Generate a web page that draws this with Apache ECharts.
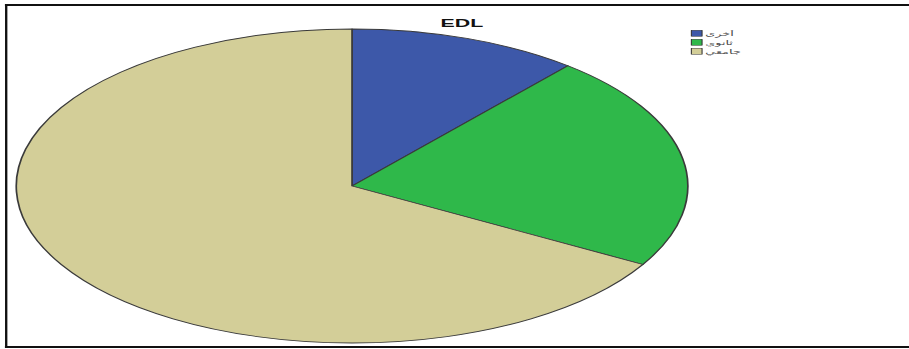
<!DOCTYPE html>
<html>
<head>
<meta charset="utf-8">
<script src="https://cdn.jsdelivr.net/npm/echarts@6/dist/echarts.min.js"></script>
<style>
  html, body { margin: 0; padding: 0; background: #fff; overflow: hidden; }
  #wrap { width: 909px; height: 349px; overflow: hidden; position: relative; }
  /* The chart is laid out narrow and stretched sideways so the pie becomes a wide ellipse */
  #chart { width: 425px; height: 349px; transform: scaleX(2.1388); transform-origin: 0 0; }
</style>
</head>
<body>
<div id="wrap"><div id="chart"></div></div>
<script>
const titleText = 'EDL';
const categories = ['أخرى', 'ثانوي', 'جامعي'];
const counts = [10, 20, 60];
const colors = ['#3d58a9', '#2fb84a', '#d3ce98'];

const chart = echarts.init(document.getElementById('chart'), null, { renderer: 'svg' });

chart.setOption({
  animation: false,
  title: {
    text: titleText,
    left: 201,
    top: 14,
    textStyle: { fontFamily: 'Liberation Sans, Arial, sans-serif', fontSize: 10, fontWeight: 'bold', color: '#111' }
  },
  legend: {
    orient: 'vertical',
    left: 323,
    top: 30,
    itemWidth: 5,
    itemHeight: 6,
    itemGap: 2.5,
    padding: 0,
    icon: 'rect',
    itemStyle: { borderColor: '#333', borderWidth: 0.5 },
    textStyle: { fontFamily: 'Noto Sans, DejaVu Sans, sans-serif', fontSize: 6, color: '#444', padding: [0, 0, 0, -3.5] },
    data: categories
  },
  graphic: [
    { type: 'line', shape: { x1: 2.3, y1: 5, x2: 430, y2: 5 }, style: { stroke: '#111', lineWidth: 2 } },
    { type: 'line', shape: { x1: 2.3, y1: 347, x2: 430, y2: 347 }, style: { stroke: '#111', lineWidth: 2 } },
    { type: 'line', shape: { x1: 2.9, y1: 4, x2: 2.9, y2: 348 }, style: { stroke: '#111', lineWidth: 1.1 } }
  ],
  series: [{
    type: 'pie',
    center: [164.6, 186],
    radius: [0, 157],
    startAngle: 90,
    clockwise: true,
    label: { show: false },
    labelLine: { show: false },
    emphasis: { disabled: true },
    itemStyle: { borderColor: '#3a3a3a', borderWidth: 0.8 },
    data: categories.map((name, i) => ({ name, value: counts[i], itemStyle: { color: colors[i] } }))
  }]
});
</script>
</body>
</html>
